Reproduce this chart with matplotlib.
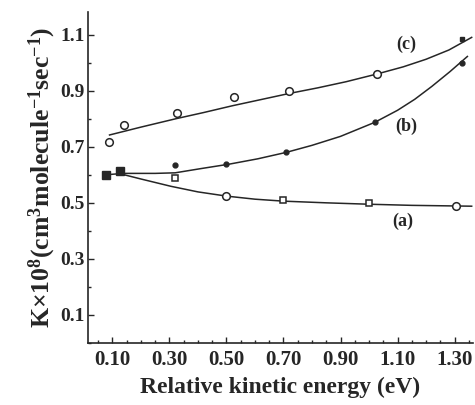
import matplotlib
matplotlib.use("Agg")
import matplotlib.pyplot as plt
from matplotlib.ticker import MultipleLocator

# ---- data ----
# series (a): open squares / circles, shared filled start squares
a_sq_x = [0.32, 0.70, 1.00]
a_sq_y = [0.588, 0.509, 0.499]
a_ci_x = [0.50, 1.305]
a_ci_y = [0.524, 0.488]
start_x = [0.077, 0.126]
start_y = [0.598, 0.615]
# series (b): filled dots
b_x = [0.32, 0.50, 0.71, 1.02, 1.326]
b_y = [0.634, 0.639, 0.680, 0.787, 1.00]
# series (c): open circles
c_x = [0.088, 0.14, 0.326, 0.527, 0.718, 1.028]
c_y = [0.716, 0.776, 0.819, 0.876, 0.900, 0.961]
c_end_x = [1.326]
c_end_y = [1.086]

# fitted curves as drawn
curve_a_x = [0.077, 0.126, 0.20, 0.305, 0.40, 0.50, 0.60, 0.70, 0.85, 1.00, 1.15, 1.36]
curve_a_y = [0.600, 0.604, 0.585, 0.559, 0.539, 0.524, 0.513, 0.506, 0.500, 0.495, 0.491, 0.488]
curve_b_x = [0.126, 0.25, 0.32, 0.41, 0.51, 0.61, 0.71, 0.80, 0.90, 1.02, 1.10, 1.16, 1.22, 1.284, 1.345]
curve_b_y = [0.605, 0.605, 0.607, 0.622, 0.638, 0.657, 0.680, 0.705, 0.737, 0.787, 0.830, 0.869, 0.915, 0.968, 1.022]
curve_c_x = [0.09, 0.20, 0.323, 0.42, 0.52, 0.62, 0.72, 0.82, 0.92, 1.03, 1.12, 1.20, 1.28, 1.36]
curve_c_y = [0.742, 0.770, 0.800, 0.822, 0.846, 0.868, 0.890, 0.910, 0.932, 0.960, 0.985, 1.012, 1.045, 1.090]

x_ticks = [0.10, 0.30, 0.50, 0.70, 0.90, 1.10, 1.30]
x_labels = ["0.10", "0.30", "0.50", "0.70", "0.90", "1.10", "1.30"]
y_ticks = [0.1, 0.3, 0.5, 0.7, 0.9, 1.1]
y_labels = ["0.1", "0.3", "0.5", "0.7", "0.9", "1.1"]

curve_labels = [("(c)", 1.13, 1.064), ("(b)", 1.13, 0.773), ("(a)", 1.12, 0.435)]

# ---- drawing ----
plt.rcParams['font.family'] = ['Liberation Serif', 'DejaVu Serif']
plt.rcParams['mathtext.fontset'] = 'custom'
plt.rcParams['mathtext.rm'] = 'Liberation Serif:bold'
plt.rcParams['mathtext.it'] = 'Liberation Serif:bold'
plt.rcParams['mathtext.bf'] = 'Liberation Serif:bold'

ink = '#262626'
fig = plt.figure(figsize=(4.75, 4.05), dpi=100)
ax = fig.add_axes([0.185, 0.153, 0.811, 0.817])

ax.plot(curve_a_x, curve_a_y, color=ink, lw=1.1)
ax.plot(curve_b_x, curve_b_y, color=ink, lw=1.1)
ax.plot(curve_c_x, curve_c_y, color=ink, lw=1.1)

ax.plot(a_sq_x, a_sq_y, 's', ms=5, mfc='white', mec=ink, mew=1.1, ls='none')
ax.plot(a_ci_x, a_ci_y, 'o', ms=5.5, mfc='white', mec=ink, mew=1.1, ls='none')
ax.plot(start_x, start_y, 's', ms=6, mfc=ink, mec=ink, ls='none')
ax.plot(b_x, b_y, 'o', ms=3.5, mfc=ink, mec=ink, ls='none')
ax.plot(c_x, c_y, 'o', ms=5.5, mfc='white', mec=ink, mew=1.1, ls='none')
ax.plot(c_end_x, c_end_y, 's', ms=3.5, mfc=ink, mec=ink, ls='none')

for txt, tx, ty in curve_labels:
    ax.text(tx, ty, txt, fontsize=13, fontweight='bold', color=ink,
            ha='center', va='center')

ax.set_xlim(0.014, 1.365)
ax.set_ylim(0.0, 1.18)
ax.set_xticks(x_ticks)
ax.set_xticklabels(x_labels)
ax.set_yticks(y_ticks)
ax.set_yticklabels(y_labels)
ax.xaxis.set_minor_locator(MultipleLocator(0.05))
ax.yaxis.set_minor_locator(MultipleLocator(0.1))
ax.tick_params(which='both', direction='in', colors=ink, width=1)
ax.tick_params(axis='x', labelsize=15, pad=5)
ax.tick_params(axis='y', labelsize=14, pad=2)
ax.tick_params(which='major', length=4)
ax.tick_params(which='minor', length=2.5)
for lab in ax.get_xticklabels() + ax.get_yticklabels():
    lab.set_fontweight('bold')

for s in ['top', 'right']:
    ax.spines[s].set_visible(False)
for s in ['left', 'bottom']:
    ax.spines[s].set_color(ink)
    ax.spines[s].set_linewidth(1.2)

ax.set_xlabel('Relative kinetic energy (eV)', fontsize=17, fontweight='bold',
              color=ink, labelpad=5)
ax.set_ylabel(r'K$\times$10$^{8}$(cm$^{3}$molecule$^{-1}$sec$^{-1}$)',
              fontsize=18.5, fontweight='bold', color=ink, labelpad=2)

fig.savefig('out.png', dpi=100)
